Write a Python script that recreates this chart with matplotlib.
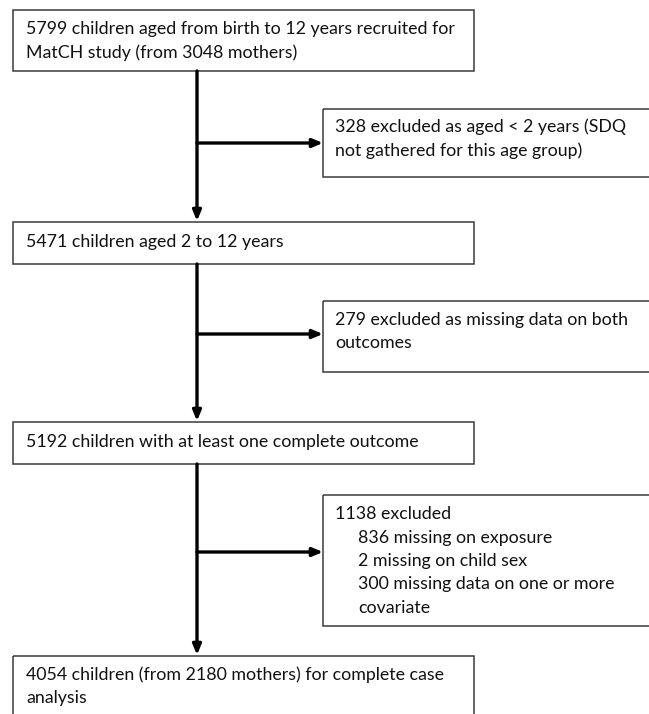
import matplotlib
matplotlib.use("Agg")
import matplotlib.pyplot as plt
from matplotlib.patches import Rectangle

plt.rcParams["font.family"] = ["Lato", "DejaVu Sans"]

# flow boxes (main column) and exclusion boxes (right)
main_texts = [
    ["5799 children aged from birth to 12 years recruited for",
     "MatCH study (from 3048 mothers)"],
    ["5471 children aged 2 to 12 years"],
    ["5192 children with at least one complete outcome"],
    ["4054 children (from 2180 mothers) for complete case",
     "analysis"],
]
excl_texts = [
    ["328 excluded as aged < 2 years (SDQ",
     "not gathered for this age group)"],
    ["279 excluded as missing data on both",
     "outcomes"],
    ["1138 excluded",
     ">836 missing on exposure",
     ">2 missing on child sex",
     ">300 missing data on one or more",
     ">covariate"],
]

# layout in pixels (top, bottom)
main_y = [(10, 71), (222, 264), (422, 464), (656, 720)]
main_x = (13, 474)
excl_y = [(109, 177), (301, 372), (495, 626)]
excl_x = (323, 660)
arrow_y = [143, 334, 552]
spine_x = 197
line_h = 23.5
fs = 12.8
indent = 23
edge = "#3a3a3a"

fig = plt.figure(figsize=(6.49, 7.14), dpi=100)
ax = fig.add_axes([0, 0, 1, 1])
ax.set_xlim(0, 649)
ax.set_ylim(714, 0)
ax.axis("off")


def draw_box(x0, x1, y0, y1, lines, tx, ty):
    ax.add_patch(Rectangle((x0, y0), x1 - x0, y1 - y0, fill=False,
                           edgecolor=edge, linewidth=1.1))
    for i, s in enumerate(lines):
        x = tx
        if s.startswith(">"):
            s = s[1:]
            x = tx + indent
        ax.text(x, ty + i * line_h, s, fontsize=fs, va="center",
                ha="left", color="#111111")


main_text_y = [29, 242, 442, 675]
for (y0, y1), lines, ty in zip(main_y, main_texts, main_text_y):
    draw_box(main_x[0], main_x[1], y0, y1, lines, 26, ty)

excl_text_y = [127, 320, 514]
for (y0, y1), lines, ty in zip(excl_y, excl_texts, excl_text_y):
    draw_box(excl_x[0], excl_x[1], y0, y1, lines, 335, ty)

# arrows: down the spine, and out to each exclusion box
for k in range(3):
    ax.annotate("", xy=(spine_x, main_y[k + 1][0] - 1),
                xytext=(spine_x, main_y[k][1]),
                arrowprops=dict(arrowstyle="-|>,head_length=0.6,head_width=0.25",
                                color="black", lw=2.4, shrinkA=0, shrinkB=0))
    ax.annotate("", xy=(excl_x[0], arrow_y[k]),
                xytext=(spine_x, arrow_y[k]),
                arrowprops=dict(arrowstyle="-|>,head_length=0.6,head_width=0.25",
                                color="black", lw=2.4, shrinkA=0, shrinkB=0))

fig.savefig("out.png", dpi=100)
